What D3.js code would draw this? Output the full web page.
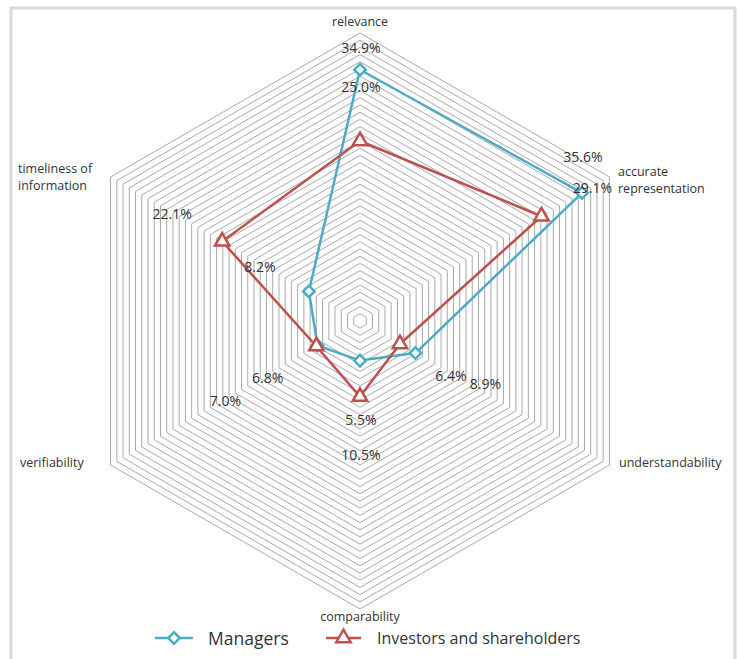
<!DOCTYPE html>
<html>
<head>
<meta charset="utf-8">
<script src="https://cdn.jsdelivr.net/npm/d3@7"></script>
<style>
  html, body { margin: 0; padding: 0; background: #ffffff; }
  svg { display: block; }
  text { font-family: "Open Sans", "Noto Sans", sans-serif; }
</style>
</head>
<body>
<svg id="chart" width="740" height="659"></svg>
<script>
// Quality characteristics of financial information, share of answers (%)
const categories = ["relevance", "accurate representation", "understandability",
                    "comparability", "verifiability", "timeliness of information"];
const managers  = [34.9, 35.6, 8.9, 5.5, 6.8, 8.2];
const investors = [25.0, 29.1, 6.4, 10.5, 7.0, 22.1];
const seriesNames = ["Managers", "Investors and shareholders"];
const axisMax = 40;
const axisStep = 1;

// Label placement (pixel offsets of each value label from its point)
const managerLabelOffset  = [[1, -22], [1, -36], [70, 30], [1, 59], [-50, 32], [-49, -25]];
const investorLabelOffset = [[1, -55], [51, -29], [51, 31], [1, 58], [-91, 54], [-50, -28]];

const svg = d3.select("#chart");
const cx = 360, cy = 321, R = 288;
const colors = ["#4bacc6", "#c0504d"];

// outer frame
svg.append("rect")
  .attr("x", 11).attr("y", 8).attr("width", 724).attr("height", 670)
  .attr("fill", "none").attr("stroke", "#d9d9d9").attr("stroke-width", 3);

const r = d3.scaleLinear().domain([0, axisMax]).range([0, R]);
const angle = d3.scalePoint().domain(d3.range(categories.length))
  .range([0, 2 * Math.PI * (categories.length - 1) / categories.length]);

const pt = (i, v) => {
  const a = angle(i) - Math.PI / 2;
  return [cx + r(v) * Math.cos(a), cy + r(v) * Math.sin(a)];
};

// concentric hexagonal gridlines
const ticks = d3.range(axisStep, axisMax + axisStep / 2, axisStep);
const ringLine = d3.line().curve(d3.curveLinearClosed);
svg.append("g").selectAll("path").data(ticks).join("path")
  .attr("d", t => ringLine(categories.map((c, i) => pt(i, t))))
  .attr("fill", "none")
  .attr("stroke", "#a9a9a9")
  .attr("stroke-width", 1);

// category labels
const catLabels = [
  { lines: ["relevance"], x: 360, y: 26, anchor: "middle" },
  { lines: ["accurate", "representation"], x: 618, y: 176, anchor: "start" },
  { lines: ["understandability"], x: 619, y: 467, anchor: "start" },
  { lines: ["comparability"], x: 360, y: 621, anchor: "middle" },
  { lines: ["verifiability"], x: 20, y: 467, anchor: "start" },
  { lines: ["timeliness of", "information"], x: 18, y: 173, anchor: "start" }
];
const cl = svg.append("g").selectAll("text").data(catLabels).join("text")
  .attr("x", d => d.x).attr("y", d => d.y)
  .attr("text-anchor", d => d.anchor)
  .attr("font-size", 12.5).attr("fill", "#333333");
cl.selectAll("tspan").data(d => d.lines.map(l => ({ l, x: d.x }))).join("tspan")
  .attr("x", d => d.x).attr("dy", (d, i) => i === 0 ? 0 : 17)
  .text(d => d.l);

const line = d3.line().curve(d3.curveLinearClosed);
const seriesData = [managers, investors];
const offsets = [managerLabelOffset, investorLabelOffset];

const diamond = d3.symbol().type(d3.symbolDiamond2).size(85);
const triangle = d3.symbol().type(d3.symbolTriangle).size(90);
const shapes = [diamond, triangle];

seriesData.forEach((vals, s) => {
  const g = svg.append("g");
  g.append("path")
    .attr("d", line(vals.map((v, i) => pt(i, v))))
    .attr("fill", "none").attr("stroke", colors[s]).attr("stroke-width", 2.5)
    .attr("stroke-linejoin", "round");
  g.selectAll("path.m").data(vals).join("path").attr("class", "m")
    .attr("transform", (v, i) => { const p = pt(i, v); return `translate(${p[0]},${p[1]})`; })
    .attr("d", shapes[s]())
    .attr("fill", "#ffffff").attr("stroke", colors[s]).attr("stroke-width", 2.5);
});

// value labels
seriesData.forEach((vals, s) => {
  svg.append("g").selectAll("text").data(vals).join("text")
    .attr("x", (v, i) => pt(i, v)[0] + offsets[s][i][0])
    .attr("y", (v, i) => pt(i, v)[1] + offsets[s][i][1])
    .attr("text-anchor", "middle").attr("dominant-baseline", "central")
    .attr("font-size", 14).attr("fill", "#333333")
    .text(v => v.toFixed(1) + "%");
});

// legend
const legend = [
  { x1: 155, x2: 193, tx: 208, size: 17.5 },
  { x1: 326, x2: 361, tx: 377, size: 16 }
];
legend.forEach((L, s) => {
  const g = svg.append("g").attr("transform", "translate(0,638)");
  g.append("line").attr("x1", L.x1).attr("x2", L.x2).attr("y1", 0).attr("y2", 0)
    .attr("stroke", colors[s]).attr("stroke-width", 2.5);
  g.append("path").attr("transform", `translate(${(L.x1 + L.x2) / 2},0)`)
    .attr("d", shapes[s]())
    .attr("fill", "#ffffff").attr("stroke", colors[s]).attr("stroke-width", 2.5);
  g.append("text").attr("x", L.tx).attr("y", 0).attr("dominant-baseline", "central")
    .attr("font-size", L.size).attr("fill", "#333333").text(seriesNames[s]);
});
</script>
</body>
</html>
